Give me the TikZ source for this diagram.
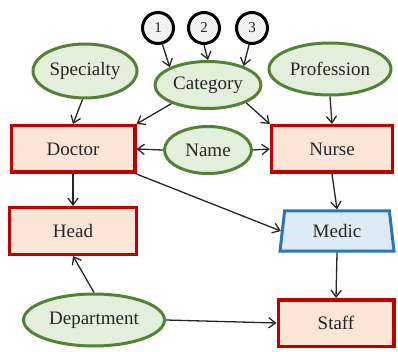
\documentclass[tikz,border=0pt]{standalone}
\usepackage{fontspec}
\setmainfont{Liberation Serif}
\usetikzlibrary{arrows.meta,shapes.geometric}

\definecolor{ovalfill}{HTML}{E2EFDA}
\definecolor{ovaldraw}{HTML}{548235}
\definecolor{boxfill}{HTML}{FBE5D6}
\definecolor{boxdraw}{HTML}{C00000}
\definecolor{trapfill}{HTML}{DDEBF7}
\definecolor{trapdraw}{HTML}{2E75B6}

\begin{document}
\begin{tikzpicture}[
  x=1pt, y=-1pt,
  every node/.style={font=\rmfamily\fontsize{19}{22}\selectfont, text=black!85},
  box/.style={rectangle, draw=boxdraw, fill=boxfill, line width=3.5pt, minimum height=46.5pt},
  oval/.style={ellipse, draw=ovaldraw, fill=ovalfill, line width=3pt, inner sep=0pt},
  num/.style={circle, draw=black, fill=black!5, line width=3pt, minimum size=31pt, inner sep=0pt,
    font=\rmfamily\fontsize{15}{17}\selectfont},
  trap/.style={trapezium, trapezium left angle=77, trapezium right angle=77, trapezium stretches body,
    draw=trapdraw, fill=trapfill, line width=3pt, minimum height=40pt, minimum width=114pt},
  link/.style={-{Straight Barb[length=2.4mm,width=3.6mm]}, line width=1.3pt, draw=black!85},
]
\useasboundingbox (0,0) rectangle (398,352);

% Numbers
\node[num] (c1) at (158,28) {1};
\node[num] (c2) at (204,28) {2};
\node[num] (c3) at (252,28) {3};

% Attributes
\node[oval, minimum width=104pt, minimum height=54pt] (spec) at (85,71) {Specialty};
\node[oval, minimum width=106pt, minimum height=47pt] (cat) at (208,85) {Category};
\node[oval, minimum width=122pt, minimum height=52pt] (prof) at (330,69) {Profession};
\node[oval, minimum width=87pt, minimum height=47pt] (name) at (208,150) {Name};
\node[oval, minimum width=141pt, minimum height=52pt] (dep) at (94,320) {Department};

% Entities
\node[box, minimum width=123.5pt] (doc) at (73,149) {Doctor};
\node[box, minimum width=121pt] (nur) at (332,149) {Nurse};
\node[box, minimum width=127pt] (head) at (73,231) {Head};
\node[box, minimum width=115.5pt] (staff) at (336,323) {Staff};
\node[trap] (med) at (337,231) {Medic};

% Links
\draw[link] (c1.-75) -- (cat.155);
\draw[link] (c2.south) -- (cat.north);
\draw[link] (c3.-100) -- (cat.28);
\draw[link] (spec.265) -- (doc.north);
\draw[link] (cat.207) -- (doc.north east);
\draw[link] (cat.-25) -- (nur.north west);
\draw[link] (name.west) -- (doc.east);
\draw[link] (name.east) -- (nur.west);
\draw[link] (prof.south) -- (nur.north);
\draw[link] (doc.south) -- (head.north);
\draw[link] (doc.south east) -- (med.west);
\draw[link] (nur.south) -- (med.north);
\draw[link] (med.south) -- (staff.north);
\draw[link] (dep.north) -- (head.south);
\draw[link] (dep.east) -- (staff.west);

\end{tikzpicture}
\end{document}
